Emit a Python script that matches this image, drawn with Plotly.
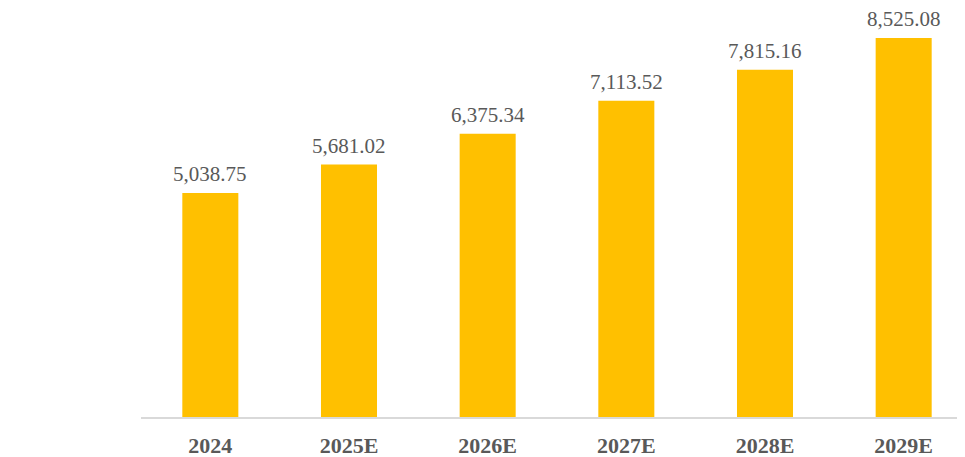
import plotly.graph_objects as go

years = ["2024", "2025E", "2026E", "2027E", "2028E", "2029E"]
values = [5038.75, 5681.02, 6375.34, 7113.52, 7815.16, 8525.08]
labels = [f"{v:,.2f}" for v in values]

BAR = "#FFC000"
TEXT = "#595959"
AXIS = "#d9d9d9"
SERIF = '"Liberation Serif", "Times New Roman", serif'

fig = go.Figure(go.Bar(
    x=years, y=values,
    marker=dict(color=BAR, line=dict(width=0)),
    width=0.404, hoverinfo="x+y",
))

# value labels sit a bit higher above the bars than plotly's outside text;
# category index is used since "2024" alone would be read as a number
for i, (v, lab) in enumerate(zip(values, labels)):
    fig.add_annotation(x=i, y=v, text=lab, showarrow=False, yanchor="bottom", yshift=7,
                       borderpad=0, borderwidth=0,
                       font=dict(family=SERIF, size=21, color=TEXT))

# page body adds an 8px offset, margins compensate for it
fig.update_layout(
    width=965, height=457,
    margin=dict(l=133, r=0, t=9, b=48),
    paper_bgcolor="white", plot_bgcolor="white",
    showlegend=False,
)
fig.update_xaxes(
    type="category", range=[-0.5, 5.5], showline=True, linecolor=AXIS, linewidth=2,
    showgrid=False, ticks="", ticklabelstandoff=8,
    tickfont=dict(family=SERIF, size=22, color=TEXT, weight="bold"),
)
fig.update_yaxes(range=[0, 9000], visible=False, showgrid=False)

fig.write_html("out.html")
